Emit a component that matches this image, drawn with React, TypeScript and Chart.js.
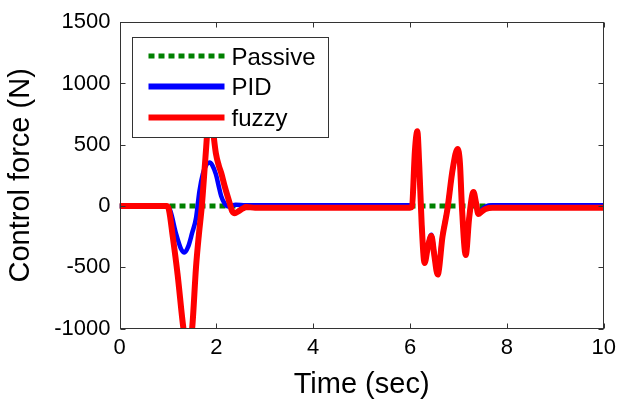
import { useEffect, useRef } from "react";
import { Chart, registerables } from "chart.js";

Chart.register(...registerables);

// ---- data ----
const seriesLabels = ["Passive", "PID", "fuzzy"];
const xTickValues = [0, 2, 4, 6, 8, 10];
const yTickValues = [-1000, -500, 0, 500, 1000, 1500];

const passiveTime = [0, 10];
const passiveForce = [0, 0];

const pidTime = [
  0, 0.98, 1.05, 1.17, 1.27, 1.34, 1.42, 1.5, 1.58, 1.65, 1.72, 1.8, 1.86, 1.92, 1.99, 2.05, 2.1, 2.17, 2.25,
  2.4, 2.6, 6.0, 6.04, 6.1, 6.15, 6.19, 6.24, 6.3, 6.37, 6.44, 6.5, 6.57, 6.67, 6.77, 6.88, 6.98, 7.03, 7.07,
  7.15, 7.22, 7.31, 7.36, 7.41, 7.48, 7.56, 7.7, 10,
];
const pidForce = [
  0, 0, -40, -230, -350, -380, -330, -220, -100, 120, 260, 340, 355, 330, 260, 160, 80, 20, -5,
  10, 5, 5, 10, 430, 580, 320, -140, -440, -320, -235, -380, -535, -240, -20, 290, 445, 335, 0,
  -380, -95, 110, 30, -55, -30, -5, 5, 5,
];

const fuzzyTime = [
  0, 0.97, 1.02, 1.1, 1.2, 1.32, 1.41, 1.5, 1.58, 1.64, 1.7, 1.77, 1.83, 1.88, 1.93, 1.99, 2.05, 2.1, 2.18,
  2.27, 2.33, 2.38, 2.45, 2.55, 2.61, 2.8, 6.0, 6.04, 6.1, 6.15, 6.19, 6.24, 6.3, 6.37, 6.44, 6.5, 6.57, 6.67,
  6.77, 6.88, 6.98, 7.03, 7.07, 7.15, 7.22, 7.31, 7.36, 7.41, 7.48, 7.56, 7.7, 10,
];
const fuzzyForce = [
  0, 0, -30, -250, -560, -1000, -1200, -1000, -500, -230, 0, 370, 680, 780, 620, 430, 330, 270, 150,
  30, -45, -60, -45, -20, -8, -15, -15, -5, 450, 610, 330, -150, -465, -330, -245, -400, -560, -250,
  -30, 300, 465, 350, 0, -400, -100, 115, 30, -65, -45, -25, -15, -15,
];

const toPoints = (xs: number[], ys: number[]) => xs.map((x, i) => ({ x, y: ys[i] }));

const FONT = "'Liberation Sans', Arial, Helvetica, sans-serif";
const AXIS_COLOR = "#333333";

const framePlugin = {
  id: "matlabFrame",
  afterDatasetsDraw(chart: any) {
    const { ctx, chartArea } = chart;
    const { left, right, top, bottom } = chartArea;
    const xs = chart.scales.x;
    const ys = chart.scales.y;
    const L = Math.round(left) + 0.5;
    const R = Math.round(right) - 0.5;
    const T = Math.round(top) + 0.5;
    const B = Math.round(bottom) - 0.5;
    ctx.save();
    ctx.strokeStyle = AXIS_COLOR;
    ctx.lineWidth = 1;
    ctx.strokeRect(L, T, R - L, B - T);
    const tl = 5;
    ctx.beginPath();
    xTickValues.forEach((v) => {
      const px = Math.round(xs.getPixelForValue(v)) + 0.5;
      ctx.moveTo(px, B);
      ctx.lineTo(px, B - tl);
      ctx.moveTo(px, T);
      ctx.lineTo(px, T + tl);
    });
    yTickValues.forEach((v) => {
      const py = Math.round(ys.getPixelForValue(v)) + 0.5;
      ctx.moveTo(L, py);
      ctx.lineTo(L + tl, py);
      ctx.moveTo(R, py);
      ctx.lineTo(R - tl, py);
    });
    ctx.stroke();

    // legend box
    const bx = Math.round(left + 12) + 0.5;
    const by = Math.round(top + 15) + 0.5;
    const bw = 196;
    const bh = 100;
    ctx.fillStyle = "#ffffff";
    ctx.fillRect(bx, by, bw, bh);
    ctx.strokeStyle = AXIS_COLOR;
    ctx.lineWidth = 1;
    ctx.strokeRect(bx, by, bw, bh);
    const rowOffsets = [18.5, 49, 80];
    chart.data.datasets.forEach((ds: any, i: number) => {
      const ly = by + rowOffsets[i];
      ctx.save();
      ctx.strokeStyle = ds.borderColor;
      ctx.lineWidth = ds.legendWidth;
      ctx.setLineDash(ds.borderDash || []);
      ctx.beginPath();
      ctx.moveTo(bx + 16, ly);
      ctx.lineTo(bx + 92, ly);
      ctx.stroke();
      ctx.restore();
      ctx.fillStyle = "#000000";
      ctx.font = `24px ${FONT}`;
      ctx.textBaseline = "alphabetic";
      ctx.textAlign = "left";
      ctx.fillText(ds.label, bx + 99, ly + 8.5);
    });
    ctx.restore();
  },
};

export default function App() {
  const canvasRef = useRef<HTMLCanvasElement | null>(null);

  useEffect(() => {
    const canvas = canvasRef.current;
    if (!canvas) return;
    const chart = new Chart(canvas, {
      type: "line",
      data: {
        datasets: [
          {
            label: seriesLabels[0],
            data: toPoints(passiveTime, passiveForce),
            borderColor: "#008000",
            borderWidth: 5,
            borderDash: [6, 4],
            legendWidth: 5,
            pointRadius: 0,
            tension: 0,
            order: 3,
            clip: 0,
          } as any,
          {
            label: seriesLabels[1],
            data: toPoints(pidTime, pidForce),
            borderColor: "#0000ff",
            borderWidth: 4.5,
            legendWidth: 6,
            pointRadius: 0,
            cubicInterpolationMode: "monotone",
            borderJoinStyle: "round",
            order: 2,
            clip: 0,
          } as any,
          {
            label: seriesLabels[2],
            data: toPoints(fuzzyTime, fuzzyForce),
            borderColor: "#ff0000",
            borderWidth: 6,
            legendWidth: 6,
            pointRadius: 0,
            cubicInterpolationMode: "monotone",
            borderJoinStyle: "round",
            order: 1,
            clip: 0,
          } as any,
        ],
      },
      options: {
        animation: false,
        responsive: false,
        devicePixelRatio: 1,
        layout: { padding: { left: 0, right: 17.5, top: 17, bottom: 0 } },
        plugins: {
          legend: { display: false },
          tooltip: { enabled: false },
        },
        scales: {
          x: {
            type: "linear",
            min: 0,
            max: 10,
            afterBuildTicks: (s: any) => {
              s.ticks = xTickValues.map((v) => ({ value: v }));
            },
            afterFit: (s: any) => {
              s.height = 405 - 328.5;
            },
            ticks: {
              color: "#000000",
              font: { family: FONT, size: 22 },
              padding: 6,
              maxRotation: 0,
              autoSkip: false,
              callback: (v: any) => String(v),
            },
            grid: { display: false, drawTicks: false, tickLength: 0 },
            border: { display: false },
            title: {
              display: true,
              text: "Time (sec)",
              color: "#000000",
              font: { family: FONT, size: 29 },
              padding: { top: 0, bottom: 3 },
            },
          },
          y: {
            type: "linear",
            min: -1000,
            max: 1500,
            afterBuildTicks: (s: any) => {
              s.ticks = yTickValues.map((v) => ({ value: v }));
            },
            afterFit: (s: any) => {
              s.width = 119.5;
            },
            ticks: {
              color: "#000000",
              font: { family: FONT, size: 22 },
              padding: 9,
              autoSkip: false,
              callback: (v: any) => String(v),
            },
            grid: { display: false, drawTicks: false, tickLength: 0 },
            border: { display: false },
            title: {
              display: true,
              text: "Control force (N)",
              color: "#000000",
              font: { family: FONT, size: 29 },
              padding: { top: 4, bottom: 0 },
            },
          },
        },
      },
      plugins: [framePlugin],
    });
    return () => chart.destroy();
  }, []);

  return (
    <div style={{ position: "fixed", left: 0, top: 0, width: 622, height: 405, background: "#ffffff" }}>
      <canvas ref={canvasRef} width={622} height={405} style={{ display: "block" }} />
    </div>
  );
}
